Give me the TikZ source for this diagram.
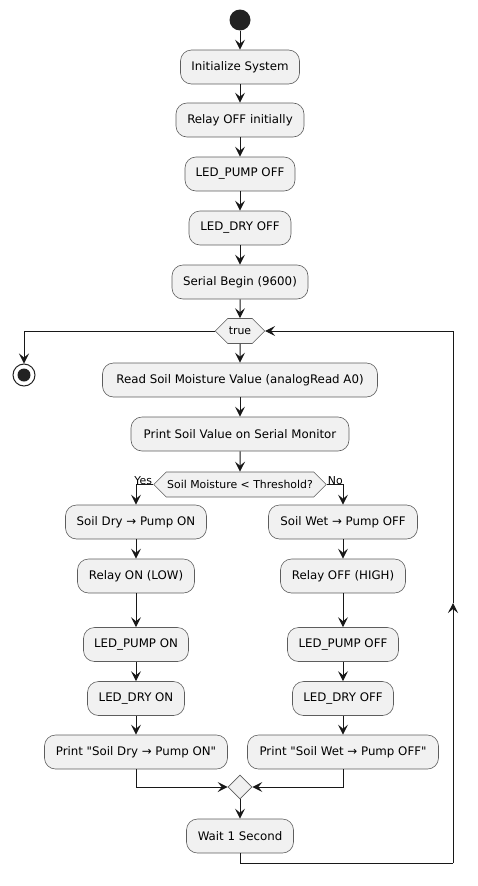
\documentclass[tikz,border=0pt]{standalone}
\usepackage{fontspec}
\setmainfont{DejaVu Sans}[Ligatures=TeXOff]
\usetikzlibrary{arrows.meta,shapes.symbols,shapes.geometric}
\definecolor{lnc}{HTML}{181818}
\definecolor{boxfill}{HTML}{F1F1F1}
\definecolor{dotc}{HTML}{222222}
\tikzset{
  act/.style={draw=lnc!70, line width=0.6pt, fill=boxfill, rounded corners=11pt,
    minimum height=34pt, inner xsep=0pt, inner ysep=0pt, font=\fontsize{11.8}{13}\selectfont, text=black},
  hexa/.style={draw=lnc!70, line width=0.6pt, fill=boxfill, signal, signal to=west and east,
    signal pointer angle=90, minimum height=25pt, inner xsep=1pt, inner ysep=0pt,
    font=\fontsize{10.9}{12}\selectfont},
  arr/.style={draw=lnc, line width=1pt, -{Stealth[length=10pt,width=10pt,inset=4pt]}},
  ln/.style={draw=lnc, line width=1pt},
  lbl/.style={font=\fontsize{10.9}{12}\selectfont, inner sep=1pt}
}
\begin{document}
\begin{tikzpicture}[x=1pt,y=-1pt]
\useasboundingbox (0,0) rectangle (478,886);
% start
\node[circle, fill=dotc, minimum size=21pt, inner sep=0pt] (start) at (240,20) {};
% init chain
\node[act, minimum width=119pt] (init) at (240,67) {Initialize System};
\node[act, minimum width=128pt] (relay0) at (240,120) {Relay OFF initially};
\node[act, minimum width=110pt] (ledp0) at (240,174) {LED\_PUMP OFF};
\node[act, minimum width=102pt] (ledd0) at (240,228) {LED\_DRY OFF};
\node[act, minimum width=136pt] (serial) at (240,282) {Serial Begin (9600)};
% loop
\node[hexa] (truehex) at (240,331) {true};
\node[circle, draw=dotc, fill=white, line width=1pt, minimum size=22pt, inner sep=0pt] (stop) at (24,375) {};
\fill[dotc] (stop.center) circle (6.5pt);
\node[act, minimum width=275pt] (read) at (240,380) {Read Soil Moisture Value (analogRead A0)};
\node[act, minimum width=218pt] (printv) at (240,434) {Print Soil Value on Serial Monitor};
\node[hexa] (dec) at (240,484.5) {Soil Moisture < Threshold?};
% left branch
\node[act, minimum width=141pt] (dry) at (136,522) {Soil Dry → Pump ON};
\node[act, minimum width=117pt] (relayon) at (136,576) {Relay ON (LOW)};
\node[act, minimum width=105pt] (ledpon) at (136,644.5) {LED\_PUMP ON};
\node[act, minimum width=97pt] (leddon) at (136,698.5) {LED\_DRY ON};
\node[act, minimum width=183pt] (printdry) at (136,752) {Print \symbol{34}Soil Dry → Pump ON\symbol{34}};
% right branch
\node[act, minimum width=149pt] (wet) at (343,522) {Soil Wet → Pump OFF};
\node[act, minimum width=125pt] (relayoff) at (343,576) {Relay OFF (HIGH)};
\node[act, minimum width=111pt] (ledpoff) at (343,644.5) {LED\_PUMP OFF};
\node[act, minimum width=101pt] (leddoff) at (343,698.5) {LED\_DRY OFF};
\node[act, minimum width=191pt] (printwet) at (343,752) {Print \symbol{34}Soil Wet → Pump OFF\symbol{34}};
% merge
\node[diamond, draw=lnc!70, line width=0.6pt, fill=boxfill, minimum size=24pt, inner sep=0pt] (merge) at (240,787) {};
\node[act, minimum width=107pt] (wait) at (240,836) {Wait 1 Second};
\coordinate (loopc) at (453,863);
\coordinate (loopmid) at (453,603);
% connectors
\draw[arr] (start) -- (init);
\draw[arr] (init) -- (relay0);
\draw[arr] (relay0) -- (ledp0);
\draw[arr] (ledp0) -- (ledd0);
\draw[arr] (ledd0) -- (serial);
\draw[arr] (serial) -- (truehex);
\draw[arr] (truehex.west) -| (stop.north);
\draw[arr] (truehex) -- (read);
\draw[arr] (read) -- (printv);
\draw[arr] (printv) -- (dec);
\draw[arr] (dec.west) -| (dry.north);
\draw[arr] (dec.east) -| (wet.north);
\node[lbl, anchor=south east] at ([yshift=-1pt]dec.west) {Yes};
\node[lbl, anchor=south west] at ([yshift=-1pt]dec.east) {No};
\draw[arr] (dry) -- (relayon);
\draw[arr] (relayon) -- (ledpon);
\draw[arr] (ledpon) -- (leddon);
\draw[arr] (leddon) -- (printdry);
\draw[arr] (wet) -- (relayoff);
\draw[arr] (relayoff) -- (ledpoff);
\draw[arr] (ledpoff) -- (leddoff);
\draw[arr] (leddoff) -- (printwet);
\draw[arr] (printdry.south) |- (merge.west);
\draw[arr] (printwet.south) |- (merge.east);
\draw[arr] (merge) -- (wait);
\draw[ln] (wait.south) |- (loopc);
\draw[arr] (loopc) -- (loopmid);
\draw[arr] (loopmid) |- (truehex.east);
\end{tikzpicture}
\end{document}
